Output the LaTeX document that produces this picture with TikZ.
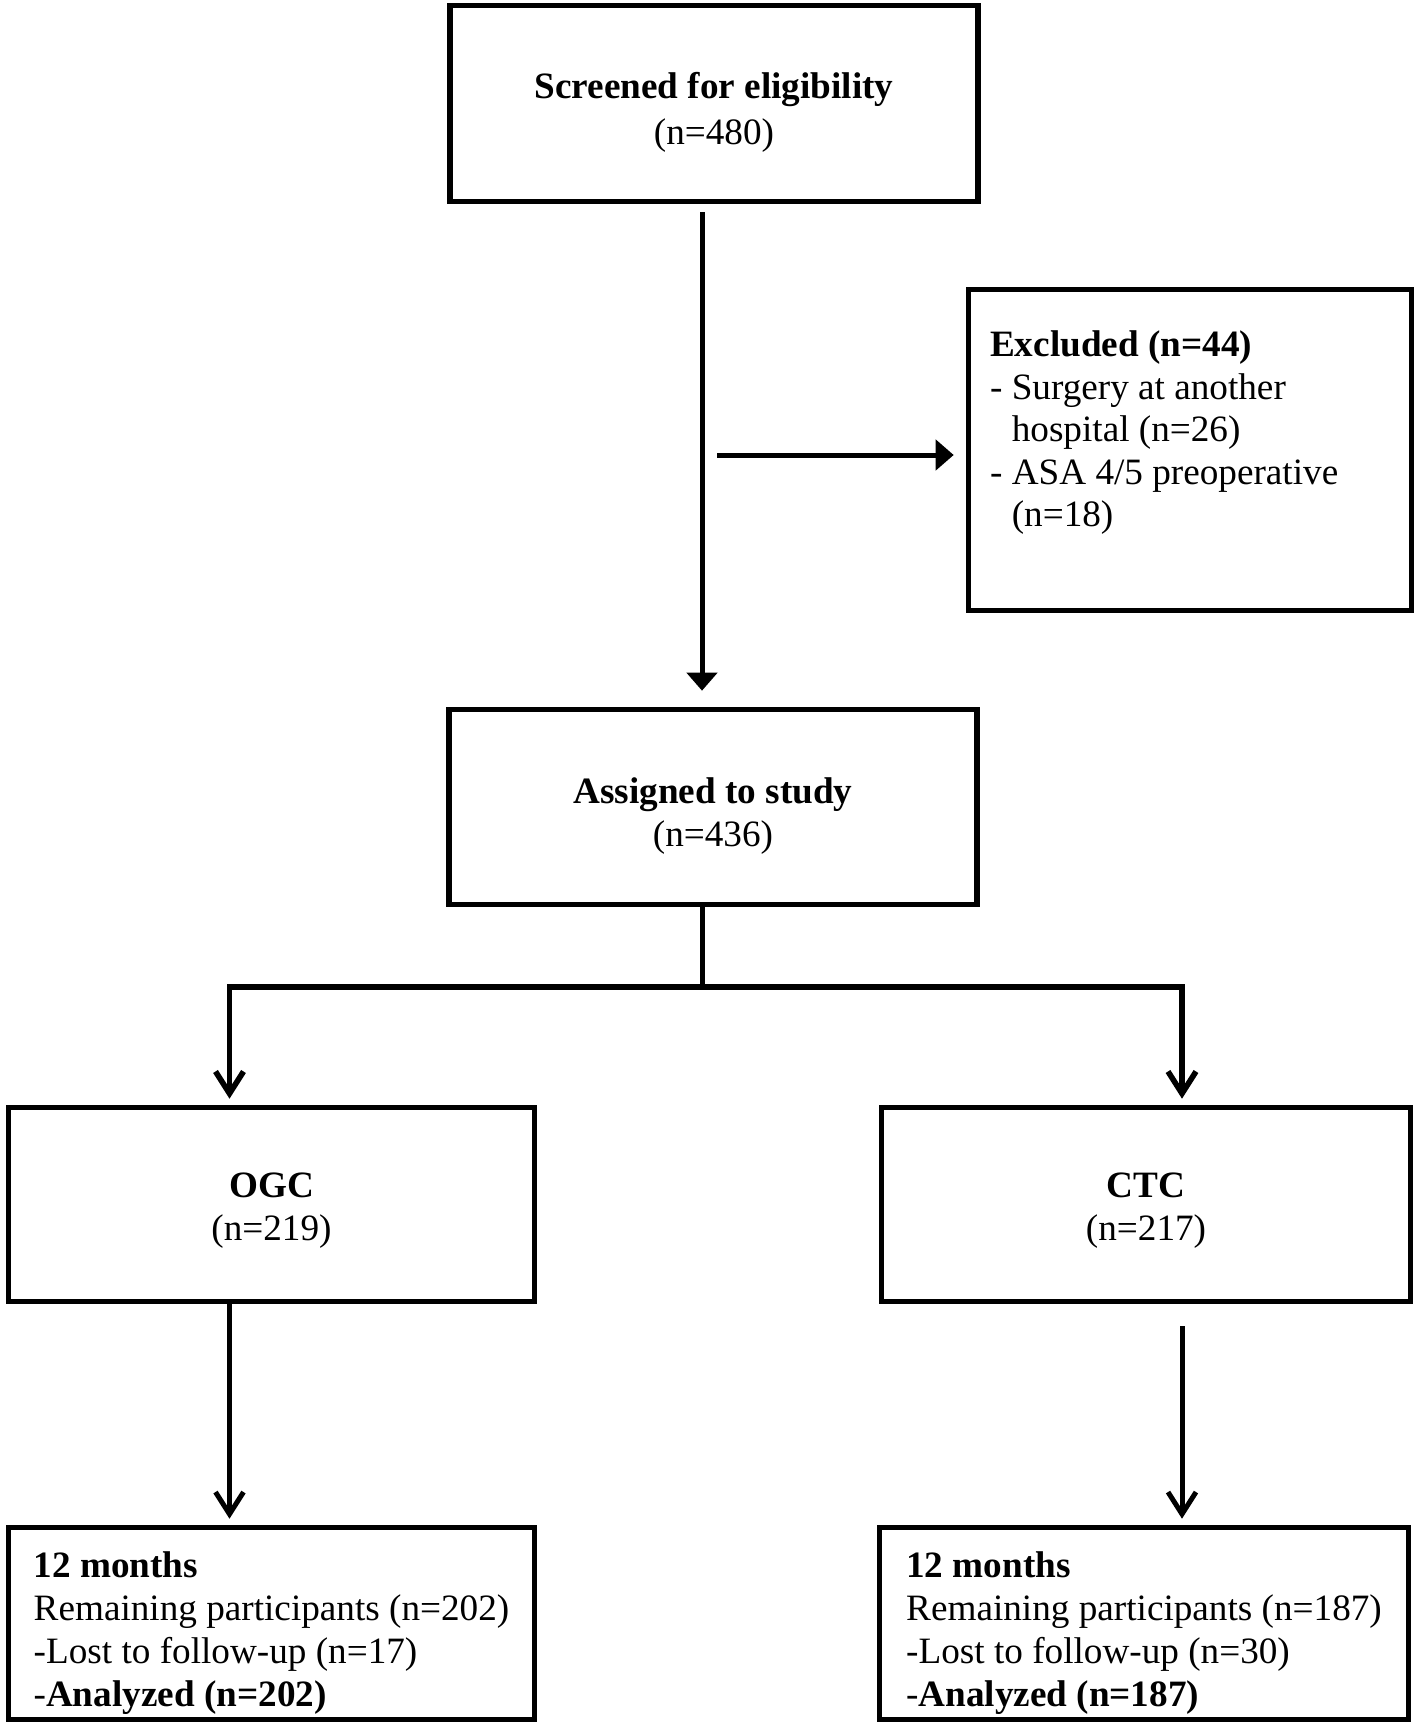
\documentclass[tikz,border=0pt]{standalone}
\usepackage{fontspec}
\setmainfont{Liberation Serif}
\usetikzlibrary{positioning,arrows.meta}
\newcommand{\upstrut}[1][18pt]{\rule{0pt}{#1}}

\begin{document}
\begin{tikzpicture}[x=0.5pt,y=-0.5pt,
    box/.style={draw, line width=2.8pt, align=center, inner sep=0pt,
      font=\fontsize{18.6}{21.5}\selectfont, text depth=0pt},
    tri/.style={-{Triangle[length=9pt,width=15pt]}, line width=2.5pt},
    barb/.style={-{Straight Barb[length=11pt,width=14pt]}, line width=2.5pt}]
      \useasboundingbox (0,0) rectangle (1418,1729);
      \node[box, minimum width=264pt, minimum height=98pt] (screen) at (714,103.5)
        {\upstrut\textbf{Screened for eligibility}\\[1.5pt](n=480)};
      \node[box, minimum width=221.5pt, minimum height=160.5pt] (excl) at (1190,450) {};
      \node[anchor=north west, align=left, inner sep=0pt,
        font=\fontsize{18.6}{21.2}\selectfont] (excltext)
        at ([shift={(12pt,-22pt)}]excl.north west)
        {\textbf{Excluded (n=44)}\\
         - Surgery at another\\
         \hphantom{-}\ hospital (n=26)\\
         - ASA 4/5 preoperative\\
         \hphantom{-}\ (n=18)};
      \node[box, minimum width=264pt, minimum height=97.5pt] (assign) at (713,807)
        {\upstrut\textbf{Assigned to study}\\(n=436)};
      \node[box, minimum width=263pt, minimum height=97pt] (ogc) at (271.5,1204.5)
        {\upstrut[14.7pt]\textbf{OGC}\\(n=219)};
      \node[box, minimum width=264.5pt, minimum height=97pt] (ctc) at (1146,1204.5)
        {\upstrut[14.7pt]\textbf{CTC}\\(n=217)};
      \node[box, align=left, minimum width=263pt, minimum height=96pt] (ogcfu) at (271.5,1623.5)
        {\upstrut\textbf{12 months}\\
         Remaining participants (n=202)\\
         -Lost to follow-up (n=17)\\
         -\textbf{Analyzed (n=202)}};
      \node[box, align=left, minimum width=264.5pt, minimum height=96pt] (ctcfu) at (1144,1623.5)
        {\upstrut\textbf{12 months}\\
         Remaining participants (n=187)\\
         -Lost to follow-up (n=30)\\
         -\textbf{Analyzed (n=187)}};
      \coordinate (exclfrom) at (717,455);
      \coordinate (split) at (702,987);
      \draw[tri, shorten <=4pt, shorten >=8pt] ([xshift=-6pt]screen.south) -- ([xshift=-6pt]screen.south |- assign.north);
      \draw[tri, shorten >=6pt] (exclfrom) -- (exclfrom -| excl.west);
      \draw[line width=2.5pt] (split |- assign.south) -- (split);
      \draw[barb, line width=2.8pt, shorten >=3pt] (split) -| ([xshift=-21pt]ogc.north);
      \draw[barb, line width=2.8pt, shorten >=3pt] (split) -| ([xshift=18pt]ctc.north);
      \draw[barb, shorten >=3pt] ([xshift=-21pt]ogc.south) -- ([xshift=-21pt]ogc.south |- ogcfu.north);
      \draw[barb, shorten <=11pt, shorten >=3pt] ([xshift=18pt]ctc.south) -- ([xshift=18pt]ctc.south |- ctcfu.north);
    \end{tikzpicture}
\end{document}
